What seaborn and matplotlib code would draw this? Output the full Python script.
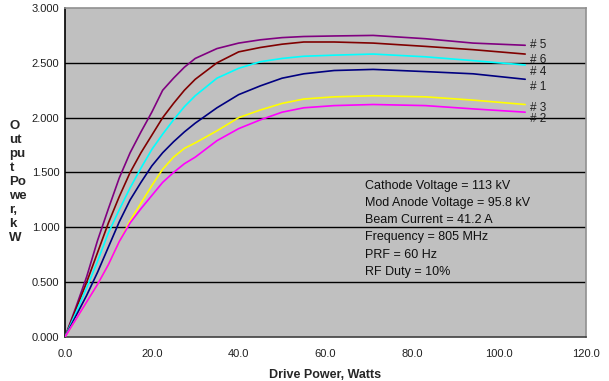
import matplotlib
matplotlib.use("Agg")
import matplotlib.pyplot as plt
import seaborn as sns
import pandas as pd
from matplotlib.ticker import FormatStrFormatter

drive_power = [0, 2.5, 5, 7.5, 10, 12.5, 15, 17.5, 20, 22.5, 25, 27.5, 30, 35, 40, 45, 50, 55, 62, 71, 83, 94, 106]
tube_5 = [0, 0.27, 0.55, 0.88, 1.17, 1.45, 1.68, 1.87, 2.05, 2.25, 2.36, 2.46, 2.54, 2.63, 2.68, 2.71, 2.73, 2.74, 2.745, 2.75, 2.72, 2.68, 2.66]
tube_6 = [0, 0.25, 0.50, 0.77, 1.04, 1.28, 1.50, 1.68, 1.84, 2.00, 2.13, 2.25, 2.35, 2.50, 2.60, 2.64, 2.67, 2.69, 2.69, 2.68, 2.65, 2.62, 2.58]
tube_4 = [0, 0.22, 0.45, 0.69, 0.95, 1.16, 1.36, 1.54, 1.71, 1.85, 1.98, 2.10, 2.20, 2.36, 2.45, 2.51, 2.54, 2.56, 2.57, 2.58, 2.555, 2.52, 2.48]
tube_1 = [0, 0.19, 0.38, 0.59, 0.82, 1.05, 1.25, 1.41, 1.56, 1.68, 1.78, 1.87, 1.95, 2.09, 2.21, 2.29, 2.36, 2.40, 2.43, 2.44, 2.42, 2.40, 2.35]
tube_3 = [0, 0.16, 0.32, 0.48, 0.66, 0.87, 1.06, 1.22, 1.38, 1.53, 1.64, 1.72, 1.77, 1.88, 2.00, 2.07, 2.13, 2.17, 2.19, 2.20, 2.19, 2.16, 2.12]
tube_2 = [0, 0.16, 0.32, 0.48, 0.66, 0.87, 1.04, 1.17, 1.29, 1.41, 1.50, 1.58, 1.64, 1.79, 1.90, 1.98, 2.05, 2.09, 2.11, 2.12, 2.11, 2.08, 2.05]

series_names = ["# 5", "# 6", "# 4", "# 1", "# 3", "# 2"]
series_values = [tube_5, tube_6, tube_4, tube_1, tube_3, tube_2]
series_colors = ["#800080", "#800000", "#00FFFF", "#000080", "#FFFF00", "#FF00FF"]
label_y = [2.66, 2.525, 2.415, 2.28, 2.09, 1.99]

x_ticks = [0, 20, 40, 60, 80, 100, 120]
y_ticks = [0, 0.5, 1.0, 1.5, 2.0, 2.5, 3.0]

info_lines = ["Cathode Voltage = 113 kV", "Mod Anode Voltage = 95.8 kV",
              "Beam Current = 41.2 A", "Frequency = 805 MHz",
              "PRF = 60 Hz", "RF Duty = 10%"]

rows = []
for name, vals in zip(series_names, series_values):
    for x, y in zip(drive_power, vals):
        rows.append({"Drive Power": x, "Output": y, "Tube": name})
df = pd.DataFrame(rows)

sns.set_style("white")
plt.rcParams["font.family"] = ["Liberation Sans", "DejaVu Sans"]

fig = plt.figure(figsize=(6.09, 3.81), dpi=100)
ax = fig.add_axes([0.1067, 0.1155, 0.8555, 0.8635])
ax.set_facecolor("#C0C0C0")

for y in y_ticks[1:-1]:
    ax.axhline(y, color="black", lw=1.0, zorder=1)

sns.lineplot(data=df, x="Drive Power", y="Output", hue="Tube",
             palette=dict(zip(series_names, series_colors)),
             hue_order=series_names, lw=1.2, legend=False, ax=ax, zorder=3)

for name, ly in zip(series_names, label_y):
    ax.text(107.0, ly, name, fontsize=8.5, va="center", ha="left", color="#202020")

for i, line in enumerate(info_lines):
    ax.text(69.0, 1.38 - i * 0.157, line, fontsize=9, va="center", ha="left",
            color="#101010")

ax.set_xlim(0, 120)
ax.set_ylim(0, 3.0)
ax.set_xticks(x_ticks)
ax.set_yticks(y_ticks)
ax.xaxis.set_major_formatter(FormatStrFormatter("%.1f"))
ax.yaxis.set_major_formatter(FormatStrFormatter("%.3f"))
ax.tick_params(axis="both", direction="out", length=3, width=0.8, labelsize=8,
               colors="black", labelcolor="#202020")
ax.tick_params(axis="x", pad=6)
ax.tick_params(axis="y", pad=1)

for side in ["top", "right"]:
    ax.spines[side].set_color("#909090")
    ax.spines[side].set_linewidth(1.2)
for side in ["left", "bottom"]:
    ax.spines[side].set_color("black")
    ax.spines[side].set_linewidth(1.2)
    ax.spines[side].set_visible(True)
ax.spines["bottom"].set_color("#404040")

ax.set_xlabel("Drive Power, Watts", fontsize=9, fontweight="bold", labelpad=7)
ax.set_ylabel("")
fig.text(0.03, 0.522, "O\nut\npu\nt\nPo\nwe\nr,\nk\nW", fontsize=9.5,
         fontweight="bold", ha="center", va="center", linespacing=1.22,
         multialignment="left")

fig.savefig("out.png", dpi=100, facecolor="white")
